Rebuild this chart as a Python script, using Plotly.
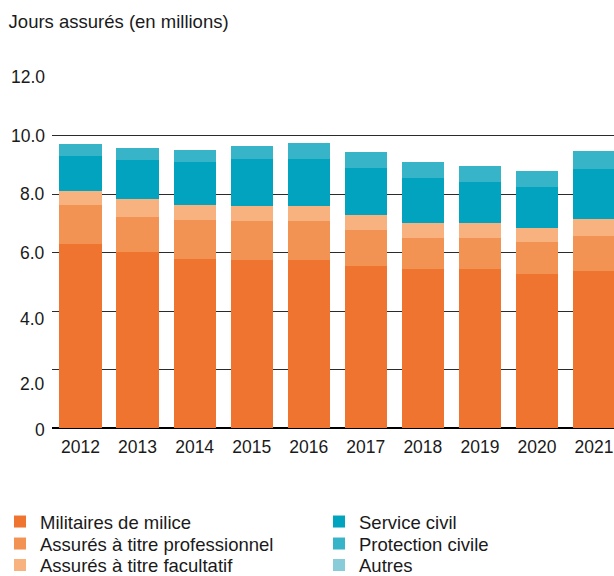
import plotly.graph_objects as go

years = ["2012", "2013", "2014", "2015", "2016", "2017", "2018", "2019", "2020", "2021"]

militaires = [6.30, 6.02, 5.79, 5.75, 5.75, 5.55, 5.45, 5.45, 5.27, 5.38]
prof = [1.33, 1.20, 1.33, 1.33, 1.33, 1.23, 1.06, 1.06, 1.09, 1.19]
facultatif = [0.47, 0.61, 0.51, 0.51, 0.51, 0.51, 0.51, 0.51, 0.48, 0.58]
service_civil = [1.19, 1.33, 1.46, 1.61, 1.61, 1.60, 1.53, 1.39, 1.40, 1.71]
protection_civile = [0.42, 0.41, 0.41, 0.44, 0.54, 0.54, 0.54, 0.55, 0.55, 0.60]
autres = [0, 0, 0, 0, 0, 0, 0, 0, 0, 0]

y_ticks = [0, 2, 4, 6, 8, 10, 12]
y_tick_labels = ["0", "2.0", "4.0", "6.0", "8.0", "10.0", "12.0"]
y_label_shift = [-2, -14, -8, 0, 0, 0, 0]

FONT = "Liberation Sans, Arial, Helvetica, sans-serif"
TEXT = "#1a1a1a"

# name, values, colour, legend column (0/1), legend row (0..2)
series = [
    ("Militaires de milice", militaires, "#EE7430", 0, 0),
    ("Assurés à titre professionnel", prof, "#F29353", 0, 1),
    ("Assurés à titre facultatif", facultatif, "#F8B280", 0, 2),
    ("Service civil", service_civil, "#02A3BE", 1, 0),
    ("Protection civile", protection_civile, "#38B4C9", 1, 1),
    ("Autres", autres, "#88CCDA", 1, 2),
]

legend_x = [0.0, 319 / 614]
legend_top_px = [503, 525, 546.5]

fig = go.Figure()
layout_legends = {}
for i, (name, vals, color, col, row) in enumerate(series):
    key = "legend" if i == 0 else f"legend{i + 1}"
    fig.add_trace(go.Bar(
        x=years, y=vals, name=name, legend=key,
        marker=dict(color=color, line=dict(width=0)),
    ))
    layout_legends[key] = dict(
        orientation="v", xref="container", yref="container",
        x=legend_x[col], y=1 - legend_top_px[row] / 576,
        xanchor="left", yanchor="top",
        font=dict(family=FONT, size=18.5, color=TEXT),
        bgcolor="rgba(0,0,0,0)", borderwidth=0, itemclick=False,
    )

for val, lab, shift in zip(y_ticks, y_tick_labels, y_label_shift):
    fig.add_annotation(
        x=0, xref="paper", y=val, yref="y", text=lab, showarrow=False,
        xanchor="right", yanchor="middle", xshift=-5, yshift=shift,
        font=dict(family=FONT, size=17.5, color=TEXT),
    )

fig.update_layout(
    width=614, height=576,
    margin=dict(l=52, r=0, t=77, b=148, autoexpand=False),
    paper_bgcolor="white", plot_bgcolor="white",
    barmode="stack", bargap=0.26,
    showlegend=True,
    title=dict(
        text="Jours assurés (en millions)", xref="container", yref="container",
        x=0.014, y=0.962, xanchor="left", yanchor="middle",
        font=dict(family=FONT, size=18.5, color=TEXT),
    ),
    xaxis=dict(
        type="category", range=[-0.5, 9.35],
        showgrid=False, showline=False, zeroline=False, ticks="",
        tickangle=0, ticklabelstandoff=6,
        tickfont=dict(family=FONT, size=17.5, color=TEXT),
    ),
    yaxis=dict(
        range=[0, 12], tickvals=y_ticks, showticklabels=False,
        showgrid=True, gridcolor="#2b2b2b", gridwidth=1,
        zeroline=True, zerolinecolor="#000000", zerolinewidth=2,
        showline=False, ticks="",
    ),
    **layout_legends,
)

fig.write_html("out.html")
